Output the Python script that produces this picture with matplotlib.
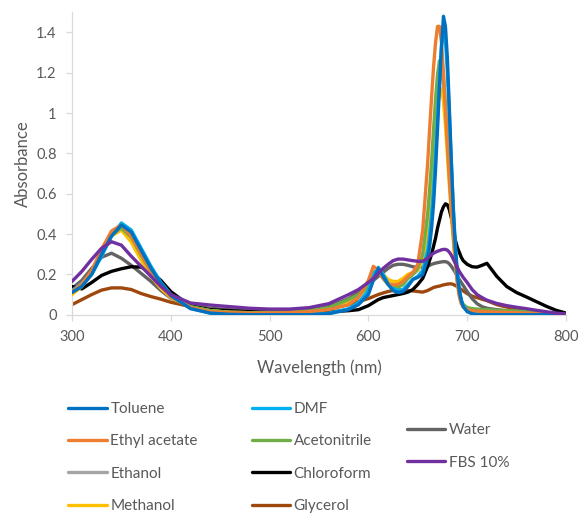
import matplotlib
matplotlib.use("Agg")
import matplotlib.pyplot as plt

plt.rcParams['font.family'] = ['Lato', 'DejaVu Sans']

wavelength = [300, 310, 320, 330, 340, 350, 360, 370, 380, 390, 400,
              420, 440, 460, 480, 500, 520, 540, 560, 580,
              590, 600,
              605, 610, 615, 620, 625, 630, 635, 640, 645, 650, 655,
              660, 662, 664, 666, 668, 670, 672, 674, 676, 678, 680, 682, 684, 686, 688, 690, 692, 694, 696,
              700, 705, 710, 715, 720,
              730, 740, 750, 760, 770, 780, 790, 800]

toluene = [0.11, 0.14, 0.20, 0.30, 0.39, 0.445, 0.41, 0.32, 0.23, 0.155, 0.095,
           0.03, 0.008, 0.002, 0.0, 0.0, 0.0, 0.0, 0.005, 0.025,
           0.05, 0.10,
           0.17, 0.23, 0.19, 0.15, 0.12, 0.11, 0.115, 0.14, 0.175, 0.185, 0.20,
           0.28, 0.34, 0.43, 0.55, 0.72, 0.92, 1.13, 1.33, 1.48, 1.43, 1.27, 1.02, 0.76, 0.52, 0.33, 0.20, 0.12, 0.07, 0.04,
           0.015, 0.005, 0.0, 0.0, 0.0,
           0.0, 0.0, 0.0, 0.0, 0.0, 0.0, 0.0, 0.0]

ethyl_acetate = [0.115, 0.15, 0.22, 0.325, 0.415, 0.445, 0.39, 0.30, 0.21, 0.14, 0.09,
                 0.035, 0.015, 0.01, 0.008, 0.008, 0.01, 0.015, 0.025, 0.05,
                 0.085, 0.17,
                 0.24, 0.22, 0.18, 0.155, 0.148, 0.15, 0.165, 0.19, 0.21, 0.25, 0.42,
                 0.75, 0.92, 1.08, 1.23, 1.35, 1.43, 1.43, 1.35, 1.20, 1.02, 0.85, 0.68, 0.53, 0.40, 0.27, 0.16, 0.09, 0.055, 0.038,
                 0.025, 0.02, 0.018, 0.016, 0.015,
                 0.013, 0.012, 0.01, 0.008, 0.006, 0.004, 0.002, 0.0]

ethanol = [0.12, 0.155, 0.215, 0.31, 0.405, 0.44, 0.39, 0.30, 0.215, 0.145, 0.092,
           0.038, 0.02, 0.012, 0.01, 0.01, 0.01, 0.015, 0.03, 0.06,
           0.09, 0.14,
           0.20, 0.215, 0.18, 0.15, 0.14, 0.14, 0.155, 0.18, 0.20, 0.22, 0.28,
           0.46, 0.57, 0.70, 0.85, 0.99, 1.11, 1.20, 1.21, 1.14, 1.00, 0.84, 0.67, 0.52, 0.38, 0.26, 0.17, 0.105, 0.065, 0.045,
           0.03, 0.025, 0.022, 0.02, 0.02,
           0.018, 0.016, 0.014, 0.012, 0.009, 0.006, 0.003, 0.0]

methanol = [0.10, 0.14, 0.205, 0.30, 0.39, 0.42, 0.36, 0.27, 0.19, 0.13, 0.085,
            0.038, 0.02, 0.012, 0.01, 0.01, 0.01, 0.015, 0.03, 0.06,
            0.09, 0.14,
            0.20, 0.225, 0.20, 0.175, 0.165, 0.165, 0.18, 0.20, 0.21, 0.22, 0.27,
            0.42, 0.52, 0.64, 0.77, 0.90, 1.02, 1.10, 1.12, 1.06, 0.94, 0.79, 0.64, 0.50, 0.37, 0.26, 0.17, 0.11, 0.07, 0.05,
            0.035, 0.028, 0.024, 0.022, 0.02,
            0.018, 0.016, 0.014, 0.012, 0.009, 0.006, 0.003, 0.0]

dmf = [0.12, 0.15, 0.20, 0.29, 0.39, 0.455, 0.42, 0.33, 0.24, 0.16, 0.10,
       0.032, 0.008, 0.003, 0.0, 0.0, 0.0, 0.002, 0.008, 0.03,
       0.06, 0.12,
       0.20, 0.235, 0.20, 0.155, 0.13, 0.12, 0.125, 0.15, 0.175, 0.19, 0.22,
       0.32, 0.40, 0.50, 0.63, 0.80, 0.98, 1.17, 1.33, 1.40, 1.36, 1.20, 0.98, 0.75, 0.53, 0.35, 0.22, 0.13, 0.075, 0.045,
       0.025, 0.018, 0.015, 0.013, 0.012,
       0.01, 0.009, 0.008, 0.006, 0.005, 0.003, 0.002, 0.0]

acetonitrile = [0.115, 0.15, 0.21, 0.30, 0.395, 0.43, 0.385, 0.295, 0.21, 0.145, 0.092,
                0.04, 0.02, 0.012, 0.01, 0.01, 0.012, 0.02, 0.035, 0.075,
                0.10, 0.14,
                0.21, 0.22, 0.18, 0.15, 0.135, 0.135, 0.15, 0.18, 0.20, 0.23, 0.30,
                0.50, 0.62, 0.76, 0.92, 1.07, 1.19, 1.26, 1.26, 1.18, 1.04, 0.87, 0.70, 0.54, 0.40, 0.28, 0.18, 0.11, 0.07, 0.05,
                0.035, 0.03, 0.028, 0.026, 0.025,
                0.022, 0.02, 0.018, 0.015, 0.01, 0.005, 0.002, 0.0]

chloroform = [0.14, 0.128, 0.16, 0.195, 0.215, 0.228, 0.238, 0.236, 0.215, 0.17, 0.115,
              0.042, 0.025, 0.02, 0.015, 0.01, 0.01, 0.01, 0.015, 0.02,
              0.025, 0.045,
              0.06, 0.075, 0.085, 0.09, 0.095, 0.10, 0.105, 0.112, 0.125, 0.15, 0.18,
              0.24, 0.27, 0.30, 0.34, 0.38, 0.43, 0.47, 0.51, 0.535, 0.55, 0.545, 0.52, 0.48, 0.43, 0.37, 0.335, 0.31, 0.285, 0.268,
              0.25, 0.238, 0.236, 0.245, 0.255,
              0.19, 0.14, 0.11, 0.088, 0.065, 0.042, 0.022, 0.008]

glycerol = [0.05, 0.075, 0.10, 0.122, 0.133, 0.133, 0.125, 0.105, 0.09, 0.077, 0.062,
            0.04, 0.025, 0.015, 0.01, 0.008, 0.01, 0.015, 0.03, 0.05,
            0.065, 0.08,
            0.09, 0.10, 0.108, 0.115, 0.12, 0.122, 0.122, 0.12, 0.118, 0.115, 0.112,
            0.12, 0.125, 0.13, 0.135, 0.138, 0.14, 0.142, 0.145, 0.148, 0.15, 0.152, 0.153, 0.153, 0.15, 0.145, 0.14, 0.133, 0.125, 0.118,
            0.105, 0.092, 0.085, 0.077, 0.07,
            0.05, 0.038, 0.03, 0.022, 0.015, 0.01, 0.006, 0.003]

water = [0.13, 0.17, 0.23, 0.285, 0.305, 0.28, 0.245, 0.205, 0.165, 0.12, 0.082,
         0.045, 0.032, 0.025, 0.02, 0.018, 0.018, 0.022, 0.04, 0.08,
         0.11, 0.15,
         0.17, 0.19, 0.21, 0.23, 0.245, 0.25, 0.25, 0.245, 0.238, 0.235, 0.235,
         0.24, 0.245, 0.25, 0.253, 0.256, 0.258, 0.26, 0.262, 0.263, 0.263, 0.26, 0.252, 0.24, 0.225, 0.21, 0.19, 0.175, 0.16, 0.145,
         0.115, 0.08, 0.055, 0.04, 0.032,
         0.025, 0.02, 0.017, 0.014, 0.01, 0.007, 0.004, 0.002]

fbs10 = [0.165, 0.215, 0.275, 0.33, 0.362, 0.345, 0.29, 0.24, 0.19, 0.14, 0.10,
         0.058, 0.048, 0.04, 0.032, 0.028, 0.028, 0.035, 0.055, 0.10,
         0.125, 0.16,
         0.18, 0.205, 0.23, 0.25, 0.268, 0.276, 0.276, 0.272, 0.268, 0.265, 0.265,
         0.28, 0.29, 0.298, 0.305, 0.31, 0.315, 0.318, 0.322, 0.324, 0.324, 0.32, 0.31, 0.295, 0.275, 0.255, 0.235, 0.215, 0.20, 0.185,
         0.16, 0.125, 0.10, 0.085, 0.072,
         0.056, 0.045, 0.037, 0.03, 0.022, 0.015, 0.008, 0.004]

colors = {'Toluene': '#0070C0', 'Ethyl acetate': '#ED7D31', 'Ethanol': '#A5A5A5',
          'Methanol': '#FFC000', 'DMF': '#00B0F0', 'Acetonitrile': '#70AD47',
          'Chloroform': '#000000', 'Glycerol': '#9E480E', 'Water': '#636363',
          'FBS 10%': '#7030A0'}
series = {'Toluene': toluene, 'Ethyl acetate': ethyl_acetate, 'Ethanol': ethanol,
          'Methanol': methanol, 'DMF': dmf, 'Acetonitrile': acetonitrile,
          'Chloroform': chloroform, 'Glycerol': glycerol, 'Water': water,
          'FBS 10%': fbs10}
draw_order = ['Glycerol', 'Water', 'Chloroform', 'Ethanol', 'Methanol', 'Acetonitrile',
              'DMF', 'Ethyl acetate', 'Toluene', 'FBS 10%']

fig = plt.figure(figsize=(5.8, 5.14), dpi=100)
ax = fig.add_axes([0.1241, 0.3877, 0.8517, 0.5885])

handles = {}
for i, n in enumerate(draw_order):
    ln, = ax.plot(wavelength, series[n], color=colors[n], lw=2.4,
                  solid_joinstyle='round', solid_capstyle='round', zorder=2 + i)
    handles[n] = ln

ax.set_xlim(300, 800)
ax.set_ylim(0, 1.5)
ax.set_xticks([300, 400, 500, 600, 700, 800])
yt = [0, 0.2, 0.4, 0.6, 0.8, 1.0, 1.2, 1.4]
ax.set_yticks(yt)
ax.set_yticklabels(['0', '0.2', '0.4', '0.6', '0.8', '1', '1.2', '1.4'])
for s in ['top', 'right']:
    ax.spines[s].set_visible(False)
for s in ['left', 'bottom']:
    ax.spines[s].set_color('#D9D9D9')
    ax.spines[s].set_linewidth(0.9)
ax.tick_params(axis='both', direction='out', length=4, width=0.9, color='#D9D9D9',
               labelcolor='#595959', labelsize=10.5)
ax.tick_params(axis='y', pad=7)
ax.tick_params(axis='x', pad=7)
ax.set_xlabel('Wavelength (nm)', fontsize=12, color='#595959', labelpad=11)
ax.set_ylabel('Absorbance', fontsize=12, color='#595959', labelpad=4)

cols = [(['Toluene', 'Ethyl acetate', 'Ethanol', 'Methanol'], 0.118, (514 - 457.5) / 514),
        (['DMF', 'Acetonitrile', 'Chloroform', 'Glycerol'], 0.434, (514 - 457.5) / 514),
        (['Water', 'FBS 10%'], 0.702, (514 - 446.5) / 514)]
for names_c, x0, y0 in cols:
    leg = fig.legend([handles[n] for n in names_c], names_c, loc='center left',
                     bbox_to_anchor=(x0, y0), frameon=False, fontsize=11,
                     handlelength=2.5, handletextpad=0.25, labelspacing=1.2,
                     borderpad=0, borderaxespad=0)
    for t in leg.get_texts():
        t.set_color('#595959')

fig.savefig('out.png', dpi=100)
